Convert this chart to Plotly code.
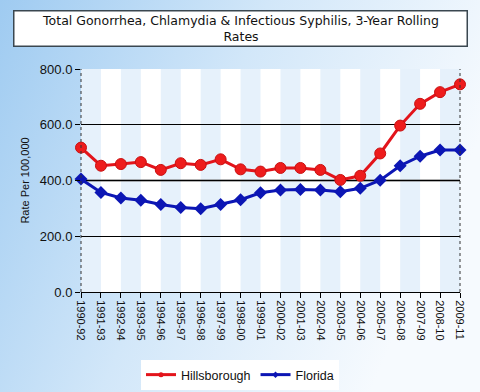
import base64
import plotly.graph_objects as go

periods = ["1990-92", "1991-93", "1992-94", "1993-95", "1994-96", "1995-97", "1996-98",
           "1997-99", "1998-00", "1999-01", "2000-02", "2001-03", "2002-04", "2003-05",
           "2004-06", "2005-07", "2006-08", "2007-09", "2008-10", "2009-11"]
hillsborough = [518, 453, 459, 466, 438, 462, 456, 476, 440, 432, 445, 445, 438, 402,
                417, 497, 597, 675, 717, 745]
florida = [405, 357, 337, 329, 314, 303, 299, 314, 331, 356, 366, 368, 366, 360,
           372, 401, 453, 487, 509, 509]
y_ticks = [0, 200, 400, 600, 800]

RED = "#e3141b"
BLUE = "#0c16b4"

svg = ('<svg xmlns="http://www.w3.org/2000/svg" width="480" height="392">'
       '<defs><linearGradient id="g" x1="0" y1="0" x2="1" y2="0.35">'
       '<stop offset="0" stop-color="#9fcbf1"/><stop offset="0.5" stop-color="#d2e7f9"/>'
       '<stop offset="1" stop-color="#f6fafe"/></linearGradient></defs>'
       '<rect width="480" height="392" fill="url(#g)"/></svg>')
bg_src = "data:image/svg+xml;base64," + base64.b64encode(svg.encode()).decode()

fig = go.Figure()
fig.add_trace(go.Scatter(x=periods, y=hillsborough, name="Hillsborough", mode="lines+markers",
                         line=dict(color=RED, width=3),
                         marker=dict(symbol="circle", size=11, color="#ee1c1c",
                                     line=dict(color="#c81010", width=1)),
                         cliponaxis=False, showlegend=False))
fig.add_trace(go.Scatter(x=periods, y=florida, name="Florida", mode="lines+markers",
                         line=dict(color=BLUE, width=3),
                         marker=dict(symbol="diamond", size=10, color=BLUE),
                         cliponaxis=False, showlegend=False))
# legend entries (line with small marker)
fig.add_trace(go.Scatter(x=[None], y=[None], name="Hillsborough", mode="lines+markers",
                         line=dict(color=RED, width=3),
                         marker=dict(symbol="circle", size=5, color=RED)))
fig.add_trace(go.Scatter(x=[None], y=[None], name="Florida", mode="lines+markers",
                         line=dict(color=BLUE, width=3),
                         marker=dict(symbol="diamond", size=5, color=BLUE)))

shapes = [dict(type="rect", xref="paper", yref="paper", x0=0, x1=1, y0=0, y1=1,
               fillcolor="white", line=dict(width=0), layer="below")]
for i in range(0, len(periods) - 1, 2):
    shapes.append(dict(type="rect", xref="x", yref="paper", x0=i, x1=i + 1, y0=0, y1=1,
                       fillcolor="#e6f1fb", line=dict(width=0), layer="below"))
shapes.append(dict(type="line", xref="paper", yref="y", x0=0, x1=1, y0=400, y1=400,
                   line=dict(color="#666666", width=2), layer="below"))
# dotted left / right borders
for xv in (0, 1):
    shapes.append(dict(type="line", xref="paper", yref="paper", x0=xv, x1=xv, y0=0, y1=1,
                       line=dict(color="#333333", width=1, dash="dot")))

fig.update_layout(
    width=480, height=392,
    margin=dict(l=81, r=20, t=69, b=100, autoexpand=False),
    paper_bgcolor="#d6e9fa",
    plot_bgcolor="white",
    images=[dict(source=bg_src, xref="paper", yref="paper", x=-81/379, y=1 + 69/223,
                 sizex=480/379, sizey=392/223, xanchor="left", yanchor="top",
                 sizing="stretch", layer="below")],
    shapes=shapes,
    showlegend=True,
    legend=dict(orientation="h", x=240 / 480, y=1 - 360 / 392, xref="container",
                yref="container", xanchor="center", yanchor="top",
                bgcolor="white", font=dict(family="Liberation Sans, Arial", size=12.5, color="#111"),
                itemwidth=30, tracegroupgap=0),
    annotations=[dict(text="Total Gonorrhea, Chlamydia & Infectious Syphilis, 3-Year Rolling<br>Rates",
                      xref="paper", yref="paper", x=(240.5 - 81) / 379, y=1 + (69 - 28.5) / 223,
                      xanchor="center", yanchor="middle", showarrow=False,
                      width=450, height=32, bgcolor="white", bordercolor="#3a4750",
                      borderwidth=1.5, borderpad=1,
                      font=dict(family="DejaVu Sans, Verdana", size=12.5, color="#111"))],
    font=dict(family="Liberation Sans, Arial", color="#111"),
)
fig.update_xaxes(type="category", range=[0, 19], showgrid=False, showline=True,
                 linecolor="black", linewidth=1, ticks="outside", ticklen=5,
                 tickcolor="black", tickangle=90, tickfont=dict(size=11), zeroline=False,
                 automargin=False)
fig.update_yaxes(range=[0, 800], tickvals=y_ticks, ticktext=[f"{v:.1f}" for v in y_ticks],
                 showgrid=True, gridcolor="black", gridwidth=1, zeroline=False,
                 ticks="outside", ticklen=5, tickcolor="black", tickfont=dict(size=13),
                 automargin=False,
                 title=dict(text="Rate Per 100,000", font=dict(size=11), standoff=8))

fig.write_html("out.html", config={"displayModeBar": False},
               post_script="document.body.style.margin='0';document.body.style.overflow='hidden';")
